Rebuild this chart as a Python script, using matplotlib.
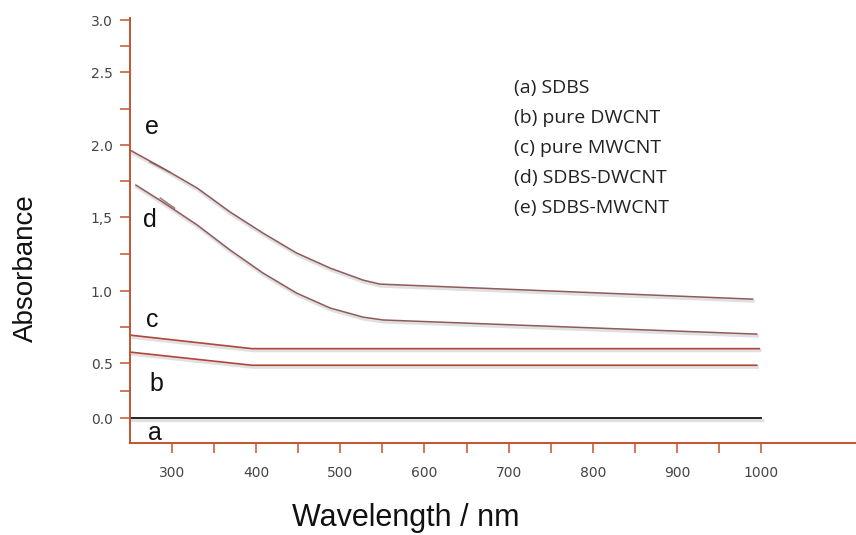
import numpy as np
import matplotlib
matplotlib.use('Agg')
import matplotlib.pyplot as plt
import matplotlib.patheffects as pe

# absorbance spectra
wl_a = [250, 1000]
abs_a = [0.0, 0.0]
wl_b = [250, 395, 995]
abs_b = [0.576, 0.48, 0.48]
wl_c = [250, 395, 998]
abs_c = [0.694, 0.60, 0.60]
wl_d = [257, 289, 330, 369, 408, 448, 488, 527, 551, 995]
abs_d = [1.722, 1.604, 1.446, 1.277, 1.122, 0.986, 0.882, 0.819, 0.799, 0.701]
wl_e = [250, 289, 330, 369, 408, 448, 488, 527, 547, 990]
abs_e = [1.965, 1.840, 1.701, 1.535, 1.392, 1.257, 1.155, 1.074, 1.047, 0.944]
# small stray strokes near the start of d and e
wl_d_mark = [286, 303]
abs_d_mark = [1.632, 1.562]
wl_e_mark = [274, 297]
abs_e_mark = [1.882, 1.812]

curve_letters = ['a', 'b', 'c', 'd', 'e']
legend_lines = ['(a) SDBS', '(b) pure DWCNT', '(c) pure MWCNT',
                '(d) SDBS-DWCNT', '(e) SDBS-MWCNT']
x_major = [300, 400, 500, 600, 700, 800, 900, 1000]
x_minor = [350, 450, 550, 650, 750, 850, 950]
y_major = [0.0, 0.5, 1.0, 1.5, 2.0, 2.5, 3.0]
y_labels = ['0.0', '0.5', '1.0', '1,5', '2.0', '2.5', '3.0']
y_minor = [0.25, 0.75, 1.25, 1.75, 2.25, 2.75]

# the printed y axis is not evenly spaced, so use a piecewise scale
knot_val = [-0.5, 0.0, 0.5, 1.0, 1.5, 2.0, 2.5, 3.0, 3.5]
knot_pos = [-55, 0, 55, 127, 201, 273, 346, 398, 450]


def fwd(v):
    return np.interp(v, knot_val, knot_pos)


def inv(p):
    return np.interp(p, knot_pos, knot_val)


axis_col = '#c4532e'
plt.rcParams['font.family'] = ['Liberation Sans', 'DejaVu Sans']

fig = plt.figure(figsize=(8.56, 5.35), dpi=100)
ax = fig.add_axes([130 / 856, 92 / 535, 726 / 856, 425 / 535])
ax.set_yscale('function', functions=(fwd, inv))

shadow = [pe.SimpleLineShadow(offset=(0.5, -1.4), shadow_color='#999999', alpha=0.3, linewidth=2.4),
          pe.Normal()]

ax.plot(wl_a, abs_a, color='#111111', lw=1.3, path_effects=shadow)
ax.plot(wl_b, abs_b, color='#b5443a', lw=1.2, path_effects=shadow)
ax.plot(wl_c, abs_c, color='#b5443a', lw=1.2, path_effects=shadow)
ax.plot(wl_d, abs_d, color='#8e5a5c', lw=1.1, path_effects=shadow)
ax.plot(wl_e, abs_e, color='#8e5a5c', lw=1.1, path_effects=shadow)
ax.plot(wl_d_mark, abs_d_mark, color='#8e5a5c', lw=1.1, alpha=0.8)
ax.plot(wl_e_mark, abs_e_mark, color='#8e5a5c', lw=1.1, alpha=0.8)

ax.set_xlim(250, 1113)
ax.set_ylim(-0.227, 3.02)

ax.set_xticks(x_major)
ax.set_xticks(x_minor, minor=True)
ax.set_yticks(y_major)
ax.set_yticklabels(y_labels)
ax.set_yticks(y_minor, minor=True)

for s in ['top', 'right']:
    ax.spines[s].set_visible(False)
for s in ['left', 'bottom']:
    ax.spines[s].set_color(axis_col)
    ax.spines[s].set_linewidth(1.4)

ax.tick_params(which='both', direction='out', length=7.5, width=1.1, color=axis_col,
               labelsize=10, labelcolor='#444444')
ax.tick_params(axis='y', pad=5)
ax.tick_params(axis='x', pad=9)
for t in ax.get_xticklabels() + ax.get_yticklabels():
    t.set_family('DejaVu Sans')

# curve letters
letter_pos = [(280, -0.136), (281, 0.31), (277, 0.80), (274, 1.48), (276, 2.125)]
for lab, (xx, yy) in zip(curve_letters, letter_pos):
    ax.text(xx, yy, lab, fontsize=18, ha='center', va='center', color='#111111')

# text key on the right
for i, txt in enumerate(legend_lines):
    fig.text(514 / 856, 1 - (88 + 30 * i) / 535, txt, fontsize=14,
             family=['Open Sans', 'DejaVu Sans'], color='#222222', va='center', ha='left')

fig.text(26 / 856, 1 - 268 / 535, 'Absorbance', rotation=90, fontsize=20,
         ha='center', va='center', color='#111111')
fig.text(406 / 856, 1 - 518 / 535, 'Wavelength / nm', fontsize=22,
         ha='center', va='center', color='#111111')

plt.savefig('out.png', dpi=100)
